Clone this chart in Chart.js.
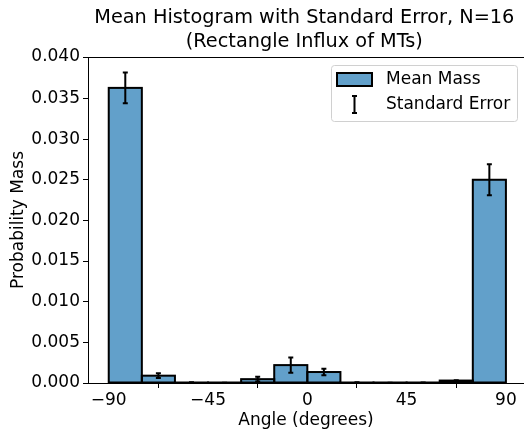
<!DOCTYPE html>
<html>
<head>
<meta charset="utf-8">
<script src="https://cdn.jsdelivr.net/npm/chart.js@4"></script>
<style>
  html, body { margin: 0; padding: 0; background: #fff; overflow: hidden; }
  #wrap { width: 524px; height: 433px; }
</style>
</head>
<body>
<div id="wrap"><canvas id="grafico"></canvas></div>
<script>
// histogram bins (degrees)
const binCenters = [-82.5, -67.5, -52.5, -37.5, -22.5, -7.5, 7.5, 22.5, 37.5, 52.5, 67.5, 82.5];
const meanMass = [0.0363, 0.0009, 0.00005, 0.00002, 0.00047, 0.0022, 0.00135, 0.00005, 0.00002, 0.00003, 0.0003, 0.0250];
const stdErr = [0.0019, 0.0003, 0.00003, 0.00001, 0.0003, 0.00095, 0.0004, 0.00003, 0.00001, 0.00002, 0.00005, 0.0019];
const xTicks = [-90, -45, 0, 45, 90];

const fonte = 'DejaVu Sans';
const corBarra = 'rgba(31,119,180,0.7)';

const extras = {
  id: 'extras',
  afterDatasetsDraw(chart) {
    const ctx = chart.ctx;
    const x = chart.scales.x, y = chart.scales.y;
    ctx.save();
    ctx.strokeStyle = '#000';
    ctx.lineWidth = 2;
    // bar edges, centred on the edge like matplotlib
    chart.getDatasetMeta(0).data.forEach(bar => {
      const p = bar.getProps(['x', 'y', 'base', 'width'], true);
      ctx.strokeRect(p.x - p.width / 2, p.y, p.width, p.base - p.y);
    });
    // error bars
    binCenters.forEach((c, i) => {
      const px = x.getPixelForValue(c);
      const yTop = y.getPixelForValue(meanMass[i] + stdErr[i]);
      const yBot = y.getPixelForValue(meanMass[i] - stdErr[i]);
      ctx.beginPath();
      ctx.moveTo(px, yTop); ctx.lineTo(px, yBot);
      ctx.moveTo(px - 2.5, yTop); ctx.lineTo(px + 2.5, yTop);
      ctx.moveTo(px - 2.5, yBot); ctx.lineTo(px + 2.5, yBot);
      ctx.stroke();
    });
    ctx.restore();
  },
  afterDraw(chart) {
    const ctx = chart.ctx;
    const x = chart.scales.x;
    const area = chart.chartArea;
    ctx.save();
    // title
    const cx = x.getPixelForValue(0) - 3;
    ctx.fillStyle = '#000';
    ctx.font = '19.3px "' + fonte + '"';
    ctx.textAlign = 'center';
    ctx.textBaseline = 'middle';
    ctx.fillText('Mean Histogram with Standard Error, N=16', cx, 18);
    ctx.fillText('(Rectangle Influx of MTs)', cx, 42);

    // top spine
    ctx.strokeStyle = '#000';
    ctx.lineWidth = 1;
    ctx.beginPath();
    ctx.moveTo(area.left, area.top + 0.5);
    ctx.lineTo(area.right, area.top + 0.5);
    ctx.stroke();

    // legend
    const lx = 331, ly = 65, lw = 186, lh = 56;
    ctx.fillStyle = 'rgba(255,255,255,0.8)';
    ctx.strokeStyle = '#d0d0d0';
    ctx.beginPath();
    ctx.roundRect(lx + 0.5, ly + 0.5, lw, lh, 3);
    ctx.fill();
    ctx.stroke();

    ctx.fillStyle = corBarra;
    ctx.fillRect(337, 73, 35, 13);
    ctx.strokeStyle = '#000';
    ctx.lineWidth = 2;
    ctx.strokeRect(337, 73, 35, 13);

    ctx.beginPath();
    ctx.moveTo(354.5, 96); ctx.lineTo(354.5, 113);
    ctx.moveTo(352, 96); ctx.lineTo(357, 96);
    ctx.moveTo(352, 113); ctx.lineTo(357, 113);
    ctx.stroke();

    ctx.fillStyle = '#000';
    ctx.font = '17px "' + fonte + '"';
    ctx.textAlign = 'left';
    ctx.fillText('Mean Mass', 386, 80);
    ctx.fillText('Standard Error', 386, 105);
    ctx.restore();
  }
};

new Chart(document.getElementById('grafico').getContext('2d'), {
  type: 'bar',
  data: {
    datasets: [{
      label: 'Mean Mass',
      data: binCenters.map((c, i) => ({ x: c, y: meanMass[i] })),
      backgroundColor: corBarra,
      borderWidth: 0,
      barPercentage: 1,
      categoryPercentage: 1
    }]
  },
  options: {
    responsive: true,
    maintainAspectRatio: false,
    animation: false,
    layout: { padding: { top: 57, left: 0, right: 0, bottom: 0 } },
    plugins: {
      legend: { display: false },
      tooltip: { enabled: false }
    },
    scales: {
      x: {
        type: 'linear',
        min: -99.4,
        max: 98.2,
        offset: false,
        afterFit: s => { s.height = 50; },
        afterBuildTicks: s => { s.ticks = xTicks.map(v => ({ value: v })); },
        ticks: {
          color: '#000',
          font: { family: fonte, size: 17 },
          padding: 2,
          maxRotation: 0,
          callback: v => String(v).replace('-', '\u2212')
        },
        grid: { drawOnChartArea: false, drawTicks: true, tickLength: 5, tickColor: '#000' },
        border: { display: true, color: '#000', width: 1 },
        title: {
          display: true,
          text: 'Angle (degrees)',
          color: '#000',
          font: { family: fonte, size: 17 },
          padding: { top: 0, bottom: 2 }
        }
      },
      y: {
        min: 0,
        max: 0.0401,
        afterFit: s => { s.width = 88; },
        ticks: {
          stepSize: 0.005,
          color: '#000',
          font: { family: fonte, size: 17 },
          padding: 3,
          callback: v => v.toFixed(3)
        },
        grid: { drawOnChartArea: false, drawTicks: true, tickLength: 5, tickColor: '#000' },
        border: { display: true, color: '#000', width: 1 },
        title: {
          display: true,
          text: 'Probability Mass',
          color: '#000',
          font: { family: fonte, size: 17 },
          padding: { top: 8, bottom: 0 }
        }
      }
    }
  },
  plugins: [extras]
});
</script>
</body>
</html>
